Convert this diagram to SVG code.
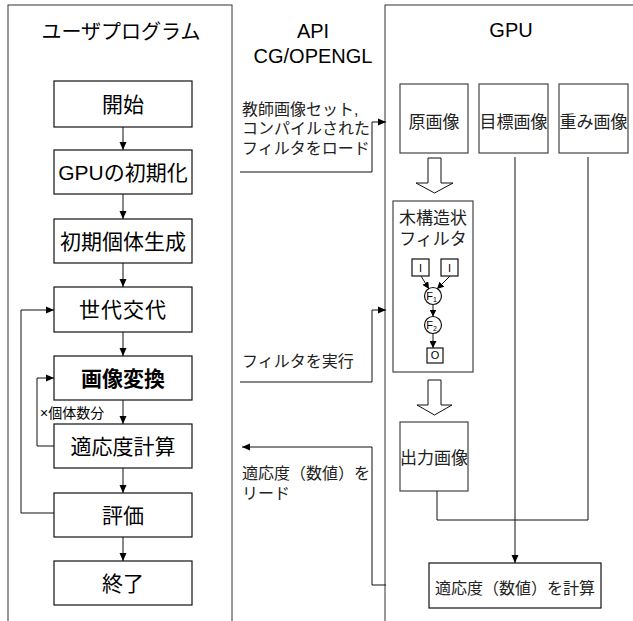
<svg xmlns="http://www.w3.org/2000/svg" width="633" height="621" viewBox="0 0 633 621">
<style>
text{font-family:"Liberation Sans","Noto Sans CJK JP",sans-serif;fill:#000}
.panel{fill:#fff;stroke:#333;stroke-width:1}
.box{fill:#fff;stroke:#111;stroke-width:1.2}
.gbox{fill:#fff;stroke:#444;stroke-width:1.2}
.ln{fill:none;stroke:#111;stroke-width:1}
.lb{font-size:21px;text-anchor:middle}
.ttl{font-size:20px;text-anchor:middle}
.note{font-size:16px;fill:#222}
.gl{font-size:17px;text-anchor:middle;fill:#222}
.sm{font-size:11px;text-anchor:middle}
.hollow{fill:#fff;stroke:#111;stroke-width:1}
</style>
<defs>
<marker id="ah" markerWidth="8" markerHeight="8" refX="8" refY="4" orient="auto" markerUnits="userSpaceOnUse"><path d="M0,0.5 L8,4 L0,7.5 z" fill="#000"/></marker>
<marker id="ahs" markerWidth="7" markerHeight="7" refX="7" refY="3.5" orient="auto" markerUnits="userSpaceOnUse"><path d="M0,0 L7,3.5 L0,7 z" fill="#000"/></marker>
</defs>
<rect width="633" height="621" fill="#fff"/>
<g id="panel-user"><rect class="panel" x="8" y="5" width="224" height="630"/><text class="ttl" x="121" y="39">ユーザプログラム</text></g>
<g id="panel-api"><text class="ttl" x="313" y="38">API</text><text class="ttl" x="313" y="63">CG/OPENGL</text></g>
<g id="panel-gpu"><rect class="panel" x="385" y="5" width="260" height="630"/><text class="ttl" x="511" y="37">GPU</text></g>

<g id="n-start"><rect class="box" x="54" y="81" width="138" height="46"/><text class="lb" x="123" y="112">開始</text></g>
<g id="n-init"><rect class="box" x="54" y="150" width="138" height="44"/><text class="lb" x="123" y="180">GPUの初期化</text></g>
<g id="n-gen0"><rect class="box" x="54" y="219" width="138" height="44"/><text class="lb" x="123" y="249">初期個体生成</text></g>
<g id="n-gen"><rect class="box" x="54" y="287" width="138" height="45"/><text class="lb" x="123" y="317" letter-spacing="1">世代交代</text></g>
<g id="n-conv"><rect class="box" x="54" y="356" width="138" height="44"/><text class="lb" x="123" y="386" font-weight="bold">画像変換</text></g>
<g id="n-fit"><rect class="box" x="54" y="424" width="138" height="44"/><text class="lb" x="123" y="454">適応度計算</text></g>
<g id="n-eval"><rect class="box" x="54" y="493" width="138" height="44"/><text class="lb" x="123" y="523">評価</text></g>
<g id="n-end"><rect class="box" x="54" y="561" width="138" height="44"/><text class="lb" x="123" y="591">終了</text></g>

<g id="n-orig"><rect class="gbox" x="400" y="84" width="68" height="69"/><text class="gl" x="434" y="128">原画像</text></g>
<g id="n-target"><rect class="gbox" x="479" y="84" width="69" height="69"/><text class="gl" x="513.5" y="128">目標画像</text></g>
<g id="n-weight"><rect class="gbox" x="559" y="84" width="69" height="69"/><text class="gl" x="593.5" y="128">重み画像</text></g>
<g id="n-tree">
<rect class="gbox" x="393" y="201" width="80" height="171"/>
<text class="gl" x="433" y="224">木構造状</text>
<text class="gl" x="433" y="245">フィルタ</text>
<rect class="box" x="412" y="259" width="17" height="17" stroke-width="1"/><text class="sm" x="420.5" y="271.5">I</text>
<rect class="box" x="441" y="259" width="17" height="17" stroke-width="1"/><text class="sm" x="449.5" y="271.5">I</text>
<circle class="box" cx="433" cy="296" r="8.5" stroke-width="1"/><text class="sm" x="431.5" y="300">F<tspan font-size="7" dy="2">1</tspan></text>
<circle class="box" cx="433" cy="325" r="8.5" stroke-width="1"/><text class="sm" x="431.5" y="329">F<tspan font-size="7" dy="2">2</tspan></text>
<rect class="box" x="427" y="348" width="16" height="15" stroke-width="1"/><text class="sm" x="435" y="359" font-size="9">O</text>
</g>
<g id="n-out"><rect class="gbox" x="400" y="422" width="68" height="69"/><text class="gl" x="434" y="464">出力画像</text></g>
<g id="n-calc"><rect class="box" x="429" y="563" width="172" height="45"/><text class="note" x="515" y="594" text-anchor="middle">適応度（数値）を計算</text></g>

<g id="labels">
<text class="note" x="242" y="115">教師画像セット,</text>
<text class="note" x="242" y="134">コンパイルされた</text>
<text class="note" x="242" y="154">フィルタをロード</text>
<text class="note" x="242" y="367">フィルタを実行</text>
<text class="note" x="242" y="479">適応度（数値）を</text>
<text class="note" x="242" y="499">リード</text>
<text x="40" y="418" font-size="14" fill="#222">×個体数分</text>
</g>

<g id="connectors">
<line class="ln" x1="123" y1="127" x2="123" y2="150" marker-end="url(#ah)"/>
<line class="ln" x1="123" y1="194" x2="123" y2="219" marker-end="url(#ah)"/>
<line class="ln" x1="123" y1="263" x2="123" y2="287" marker-end="url(#ah)"/>
<line class="ln" x1="123" y1="332" x2="123" y2="356" marker-end="url(#ah)"/>
<line class="ln" x1="123" y1="400" x2="123" y2="424" marker-end="url(#ah)"/>
<line class="ln" x1="123" y1="468" x2="123" y2="493" marker-end="url(#ah)"/>
<line class="ln" x1="123" y1="537" x2="123" y2="561" marker-end="url(#ah)"/>
<path class="ln" d="M54,513 H21 V310 H54" marker-end="url(#ah)"/>
<path class="ln" d="M54,446 H37 V378 H54" marker-end="url(#ah)"/>
<path class="ln" d="M240,172 H372 V122 H386" marker-end="url(#ah)"/>
<path class="ln" d="M240,382 H372 V310 H386" marker-end="url(#ah)"/>
<path class="ln" d="M386,585 H372 V447 H242" marker-end="url(#ah)"/>
<path class="hollow" d="M428,158 H441 V183 H453 L434.5,193 L416,183 H428 Z"/>
<path class="hollow" d="M428,380 H441 V405 H452 L434.5,415 L417,405 H428 Z"/>
<line class="ln" x1="421" y1="276" x2="429" y2="289" marker-end="url(#ahs)"/>
<line class="ln" x1="450" y1="276" x2="437" y2="289" marker-end="url(#ahs)"/>
<line class="ln" x1="433" y1="304.5" x2="433" y2="316.5" marker-end="url(#ahs)"/>
<line class="ln" x1="433" y1="333.5" x2="433" y2="348" marker-end="url(#ahs)"/>
<line class="ln" x1="515" y1="157" x2="515" y2="563" marker-end="url(#ah)"/>
<path class="ln" d="M437,491 V520 H588 V157"/>
</g>
</svg>
